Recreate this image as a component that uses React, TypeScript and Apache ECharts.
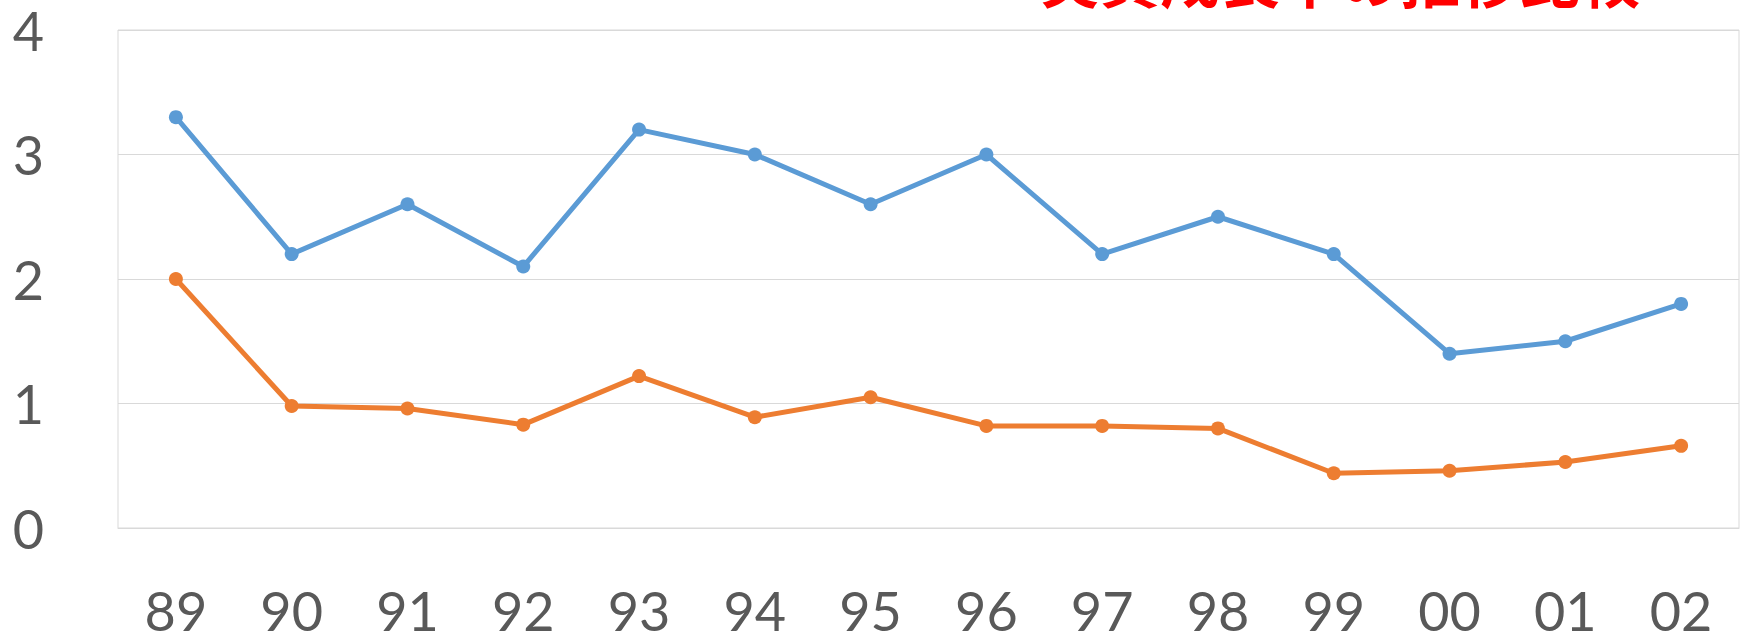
import React, { useEffect, useRef } from "react";
import * as echarts from "echarts";

const categories = ["89", "90", "91", "92", "93", "94", "95", "96", "97", "98", "99", "00", "01", "02"];
const seriesBlue = [3.3, 2.2, 2.6, 2.1, 3.2, 3.0, 2.6, 3.0, 2.2, 2.5, 2.2, 1.4, 1.5, 1.8];
const seriesOrange = [2.0, 0.98, 0.96, 0.83, 1.22, 0.89, 1.05, 0.82, 0.82, 0.8, 0.44, 0.46, 0.53, 0.66];
const titleText = "実質成長率の推移比較";

export default function App() {
  const ref = useRef<HTMLDivElement>(null);
  useEffect(() => {
    document.body.style.margin = "0";
    const chart = echarts.init(ref.current!, null, { renderer: "svg" });
    chart.setOption({
      animation: false,
      backgroundColor: "#ffffff",
      graphic: [
        {
          type: "text",
          left: 1040,
          top: -54,
          style: {
            text: titleText,
            fill: "#ff0000",
            font: "bold 60px 'Noto Sans CJK JP'",
          },
        },
      ],
      grid: {
        left: 118,
        right: 3,
        top: 30,
        bottom: 109,
        show: true,
        borderColor: "#d9d9d9",
        borderWidth: 1,
      },
      xAxis: {
        type: "category",
        data: categories,
        boundaryGap: true,
        axisLine: { show: true, lineStyle: { color: "#d9d9d9" } },
        axisTick: { show: false },
        axisLabel: {
          color: "#595959",
          fontSize: 54,
          lineHeight: 42,
          fontFamily: "Lato",
          margin: 61,
        },
      },
      yAxis: {
        type: "value",
        min: 0,
        max: 4,
        interval: 1,
        axisLine: { show: false },
        axisTick: { show: false },
        splitLine: { lineStyle: { color: "#d9d9d9", width: 1 } },
        axisLabel: {
          color: "#595959",
          fontSize: 54,
          lineHeight: 42,
          fontFamily: "Lato",
          margin: 74,
        },
      },
      series: [
        {
          type: "line",
          data: seriesBlue,
          color: "#5B9BD5",
          lineStyle: { width: 5 },
          symbol: "circle",
          symbolSize: 14,
        },
        {
          type: "line",
          data: seriesOrange,
          color: "#ED7D31",
          lineStyle: { width: 5 },
          symbol: "circle",
          symbolSize: 14,
        },
      ],
    });
    return () => chart.dispose();
  }, []);
  return <div ref={ref} style={{ position: "fixed", left: 0, top: 0, width: 1742, height: 637 }} />;
}
